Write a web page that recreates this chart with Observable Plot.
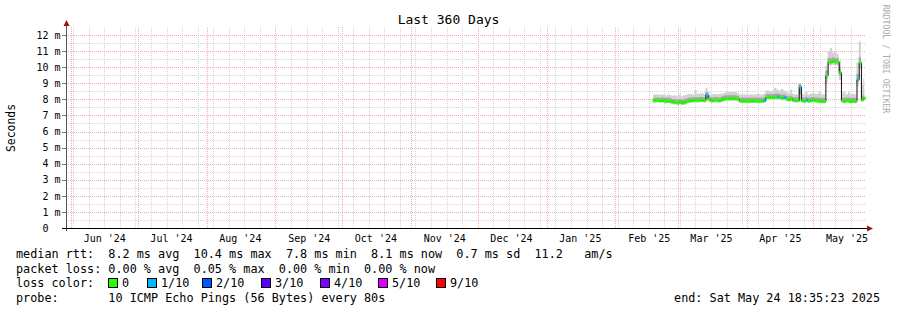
<!DOCTYPE html>
<html><head><meta charset="utf-8">
<script src="https://cdn.jsdelivr.net/npm/d3@7"></script>
<script src="https://cdn.jsdelivr.net/npm/@observablehq/plot@0.6"></script>
<style>
body{margin:0;background:#fff;}
#wrap{position:relative;width:897px;height:310px;overflow:hidden;font-family:"DejaVu Sans Mono",monospace;color:#000;background:#fff;}
#wrap svg{position:absolute;left:0;top:0;}
.t{position:absolute;white-space:pre;font-size:11.8px;line-height:14px;}
.box{position:absolute;width:8px;height:8px;border:1px solid #000;}
</style></head><body><div id="wrap"></div>
<script>
// ---- texts ----
const title = "Last 360 Days";
const yLabel = "Seconds";
const watermark = "RRDTOOL / TOBI OETIKER";
const legendRtt = "median rtt:  8.2 ms avg  10.4 ms max  7.8 ms min  8.1 ms now  0.7 ms sd  11.2   am/s";
const legendLoss = "packet loss: 0.00 % avg  0.05 % max  0.00 % min  0.00 % now";
const legendColorLabel = "loss color:";
const legendProbe = "probe:       10 ICMP Echo Pings (56 Bytes) every 80s";
const legendEnd = "end: Sat May 24 18:35:23 2025";

// ---- time frame ----
const startTime = "2024-05-29T18:35:23Z";
const endTime = "2025-05-24T18:35:23Z";
const firstDay = "2025-02-18"; // first daily sample, then one per day

// ---- series (milliseconds) ----
const median = [
  7.95,7.95,7.96,7.93,7.95,7.93,7.9,7.92,7.88,7.85,7.83,
  7.8,7.85,7.8,7.82,7.88,7.92,7.95,7.95,7.97,7.95, 7.97,7.98,7.95,8.3,8.05,7.95,7.95,7.97,7.95,7.95, 8.0,8.05,8.07,8.07,8.07,8.07,8.07,8.05,7.93,7.92, 7.92,
  7.92,7.92,7.92,7.92,7.92,7.92,7.92,7.92,7.95,8.15, 8.15,8.15,8.15,8.15,8.17,8.15,8.1,8.15,8.05,8.0, 8.05,7.98,7.95,7.95,8.8,7.95,7.92,7.98,7.92,7.95,
  7.98,7.95,7.92,7.92,7.9,7.9,9.5,10.35,10.35,10.4, 10.35,10.35,9.7,7.95,7.9,7.95,7.92,7.9,7.92,7.9, 9.25,10.3,8.0,8.1
];
const smokeMin = [
  7.8,7.8,7.82,7.8,7.8,7.78,7.75,7.78,7.72,7.7,7.68,
  7.65,7.7,7.65,7.68,7.72,7.78,7.8,7.8,7.82,7.8, 7.82,7.83,7.8,7.9,7.88,7.8,7.8,7.82,7.8,7.8, 7.85,7.9,7.92,7.92,7.92,7.92,7.92,7.9,7.78,7.77, 7.77,
  7.77,7.77,7.77,7.77,7.77,7.77,7.77,7.77,7.8,8.0, 8.0,8.0,8.0,8.0,8.0,8.0,7.95,7.98,7.9,7.85, 7.88,7.82,7.8,7.8,7.85,7.8,7.77,7.82,7.77,7.8,
  7.82,7.8,7.77,7.77,7.75,7.75,9.0,10.1,10.1,10.15, 10.1,10.1,9.2,7.8,7.75,7.8,7.77,7.75,7.77,7.75, 8.8,9.9,7.85,7.95
];
const smokeLo = [
  7.88,7.88,7.9,7.87,7.88,7.86,7.84,7.86,7.82,7.79,7.77,
  7.74,7.79,7.74,7.76,7.82,7.86,7.89,7.89,7.91,7.89, 7.91,7.92,7.89,8.1,7.97,7.89,7.89,7.91,7.89,7.89, 7.94,7.99,8.01,8.01,8.01,8.01,8.01,7.99,7.87,7.86, 7.86,
  7.86,7.86,7.86,7.86,7.86,7.86,7.86,7.86,7.89,8.07, 8.07,8.07,8.07,8.07,8.09,8.07,8.02,8.07,7.98,7.93, 7.98,7.91,7.89,7.89,8.3,7.89,7.86,7.91,7.86,7.89,
  7.91,7.89,7.86,7.86,7.84,7.84,9.3,10.25,10.25,10.3, 10.25,10.25,9.5,7.89,7.84,7.89,7.86,7.84,7.86,7.84, 9.1,10.15,7.92,8.02
];
const smokeHi = [
  8.1,8.1,8.12,8.1,8.12,8.1,8.08,8.1,8.05,8.02,8.0,
  7.98,8.02,7.98,8.0,8.05,8.1,8.12,8.12,8.15,8.12, 8.15,8.15,8.12,8.45,8.22,8.12,8.12,8.15,8.12,8.12, 8.18,8.22,8.25,8.25,8.25,8.25,8.25,8.22,8.1,8.1, 8.1,
  8.1,8.1,8.1,8.1,8.1,8.1,8.1,8.1,8.12,8.32, 8.32,8.32,8.32,8.35,8.35,8.32,8.28,8.32,8.22,8.18, 8.22,8.15,8.12,8.12,8.95,8.12,8.1,8.15,8.1,8.12,
  8.15,8.12,8.1,8.1,8.08,8.08,9.8,10.55,10.55,10.6, 10.55,10.55,10.0,8.12,8.08,8.12,8.1,8.08,8.1,8.08, 9.6,10.6,8.2,8.3
];
const smokeMax = [
  8.3,8.3,8.32,8.28,8.3,8.3,8.25,8.3,8.25,8.22,8.25,
  8.2,8.3,8.2,8.25,8.3,8.35,8.35,8.3,8.6,8.35, 8.35,8.4,8.35,8.7,8.45,8.3,8.3,8.35,8.3,8.35, 8.35,8.4,8.45,8.45,8.45,8.45,8.45,8.4,8.3,8.3, 8.3,
  8.3,8.3,8.3,8.3,8.3,8.35,8.3,8.3,8.35,8.55, 8.55,8.5,8.55,8.7,8.6,8.55,8.65,8.55,8.5,8.4, 8.6,8.35,8.3,8.3,9.0,8.35,8.3,8.5,8.3,8.35,
  8.4,8.35,8.35,8.5,8.3,8.3,10.1,11.0,11.2,10.9, 11.0,10.8,10.4,8.4,8.5,8.3,8.45,8.3,8.35,8.3, 10.3,11.6,8.9,9.3
];
const lossDays = ["2025-03-14","2025-04-09","2025-04-15","2025-04-18","2025-04-25","2025-04-28","2025-05-21"];
const lossLevels = [1,1,1,1,1,1,1];
const lossLabels = ["0","1/10","2/10","3/10","4/10","5/10","9/10"];
const lossColors = ["#26ff00","#00b8ff","#0059ff","#5e00ff","#7e00ff","#dd00ff","#ff0000"];

// ---- axis ticks ----
const yMajorTicks = [0,1,2,3,4,5,6,7,8,9,10,11,12];
const yMinorTicks = [0.5,1.5,2.5,3.5,4.5,5.5,6.5,7.5,8.5,9.5,10.5,11.5];
const yMax = 12.5;

// ---- colours ----
const minorGrid = "#d4d4d4", majorGrid = "#f5abab", arrowColor = "#9b1414";
const smokeLight = "#d2d2d2", smokeDark = "#a4a4a4";

const start = new Date(startTime), end = new Date(endTime);
const d0 = new Date(firstDay + "T00:00:00Z");
const days = d3.utcDay.range(d0, d3.utcDay.offset(d0, median.length));
const lossMap = new Map(lossDays.map((d, i) => [d, lossLevels[i]]));
const fmtDay = d3.utcFormat("%Y-%m-%d");
const data = days.map((t, i) => ({
  t, t0: d3.utcHour.offset(t, -12), t1: d3.utcHour.offset(t, 12),
  med: median[i], mn: smokeMin[i], lo: smokeLo[i], hi: smokeHi[i], mx: smokeMax[i],
  color: lossColors[lossMap.get(fmtDay(t)) ?? 0]
}));
const weeks = d3.utcSunday.range(start, end);
const months = d3.utcMonth.range(start, end);
const monthLabels = months.map(m => d3.utcDay.offset(m, 15)).filter(d => d < end);

const chart = Plot.plot({
  width: 897, height: 245,
  marginLeft: 66, marginRight: 31, marginTop: 27, marginBottom: 17,
  x: {type: "utc", domain: [start, end]},
  y: {domain: [0, yMax]},
  color: {type: "identity"},
  style: {fontFamily: "DejaVu Sans Mono", fontSize: "10px", color: "#000", background: "transparent", overflow: "visible"},
  marks: [
    Plot.ruleY(yMinorTicks, {stroke: minorGrid, strokeDasharray: "1,1", shapeRendering: "crispEdges"}),
    Plot.ruleX(weeks, {stroke: minorGrid, strokeDasharray: "1,1", shapeRendering: "crispEdges"}),
    Plot.ruleY(yMajorTicks.filter(v => v > 0), {stroke: majorGrid, strokeDasharray: "1,1", shapeRendering: "crispEdges"}),
    Plot.ruleX(months, {stroke: majorGrid, strokeDasharray: "1,1", shapeRendering: "crispEdges"}),
    Plot.areaY(data, {x: "t", y1: "mn", y2: "mx", fill: smokeLight, curve: "step"}),
    Plot.areaY(data, {x: "t", y1: "lo", y2: "hi", fill: smokeDark, curve: "step"}),
    Plot.lineY(data, {x: "t", y: "med", stroke: "#111", strokeWidth: 1, curve: "step"}),
    Plot.link(data, {x1: "t0", x2: "t1", y1: "med", y2: "med", stroke: "color", strokeWidth: 3}),
    Plot.axisY({ticks: yMajorTicks, tickFormat: d => d === 0 ? "0\u00a0\u00a0" : d + " m", tickSize: 0, tickPadding: 6, fontSize: 10, label: null}),
    Plot.axisX({ticks: monthLabels, tickFormat: d3.utcFormat("%b '%y"), tickSize: 0, tickPadding: 6, fontSize: 10, label: null})
  ]
});

// axis lines, small ticks and arrows (placed from the scales' ranges)
const svg = d3.select(chart);
const [xa, xb] = chart.scale("x").range;
const [yb, yt] = chart.scale("y").range;
const ys = chart.scale("y");
const deco = svg.append("g");
yMajorTicks.forEach(v => {
  const y = Math.round(ys.apply(v)) + 0.5;
  deco.append("line").attr("x1", xa - 4).attr("x2", xa).attr("y1", y).attr("y2", y).attr("stroke", "#777");
});
deco.append("line").attr("x1", xa + 0.5).attr("x2", xa + 0.5).attr("y1", yt - 1).attr("y2", yb + 3).attr("stroke", "#555");
deco.append("line").attr("x1", xa - 4).attr("x2", xb + 1).attr("y1", yb + 0.5).attr("y2", yb + 0.5).attr("stroke", "#000");
deco.append("path").attr("d", `M${xa - 2.5},${yt - 1}L${xa + 3.5},${yt - 1}L${xa + 0.5},${yt - 7}Z`).attr("fill", arrowColor);
deco.append("path").attr("d", `M${xb + 1},${yb - 2.5}L${xb + 1},${yb + 3.5}L${xb + 7},${yb + 0.5}Z`).attr("fill", arrowColor);

const wrap = document.getElementById("wrap");
wrap.appendChild(chart);

function addText(txt, css) {
  const d = document.createElement("div");
  d.className = "t";
  d.textContent = txt;
  Object.assign(d.style, css);
  wrap.appendChild(d);
  return d;
}
addText(title, {left: "0px", top: "12.5px", width: "897px", textAlign: "center", fontSize: "13px"});
addText(yLabel, {left: "-39px", top: "120.5px", width: "100px", textAlign: "center", fontSize: "11.4px", transform: "rotate(-90deg)"});
addText(watermark, {left: "811px", top: "54px", width: "150px", textAlign: "center", fontSize: "8.2px", lineHeight: "10px", color: "#ababab", transform: "rotate(90deg)"});
addText(legendRtt, {left: "16px", top: "247px"});
addText(legendLoss, {left: "16px", top: "261.5px"});
addText(legendColorLabel, {left: "16px", top: "276px"});
addText(legendProbe, {left: "16px", top: "290.5px"});
addText(legendEnd, {right: "17px", top: "290.5px"});
const boxX = [108, 147, 202, 261, 320, 378, 436];
lossLabels.forEach((lab, i) => {
  const b = document.createElement("div");
  b.className = "box";
  b.style.left = boxX[i] + "px";
  b.style.top = "278px";
  b.style.background = lossColors[i];
  wrap.appendChild(b);
  addText(lab, {left: (boxX[i] + 14) + "px", top: "276px"});
});
</script></body></html>
